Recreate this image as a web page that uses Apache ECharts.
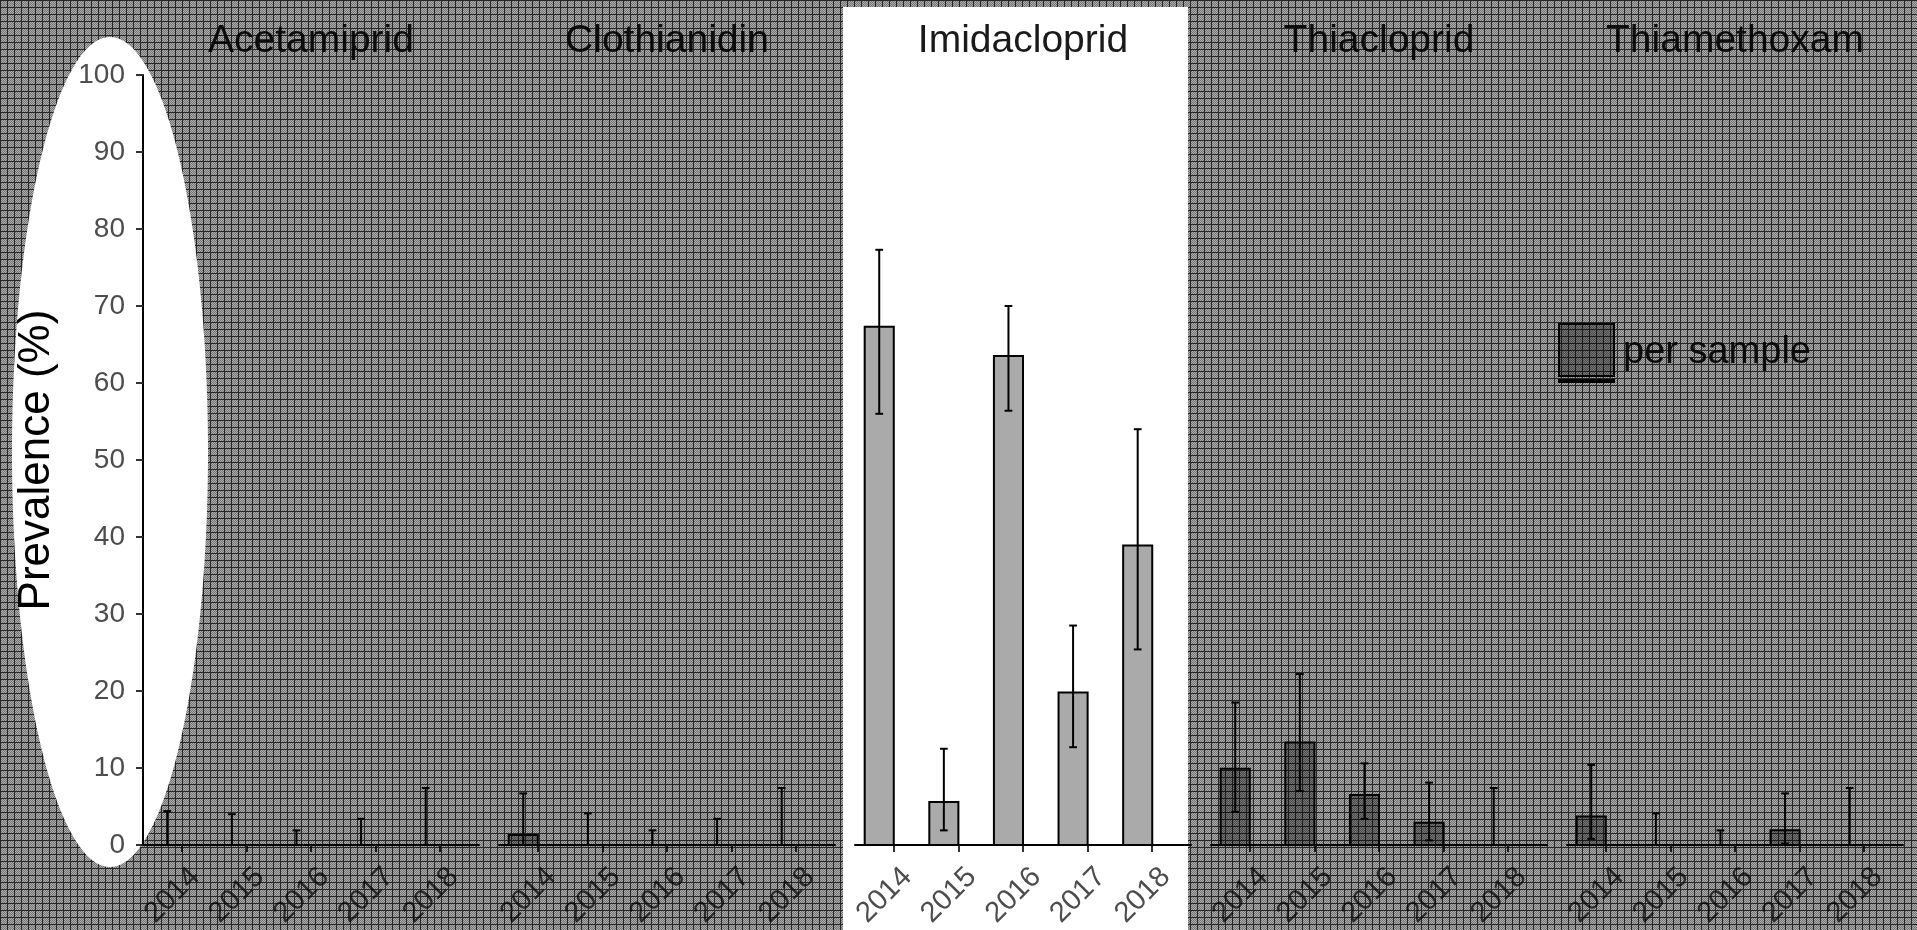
<!DOCTYPE html>
<html>
<head>
<meta charset="utf-8">
<title>Neonicotinoid prevalence per sample</title>
<script src="https://cdn.jsdelivr.net/npm/echarts@6/dist/echarts.min.js"></script>
<style>
  html, body { margin: 0; padding: 0; background: #ffffff; }
  #chart { width: 1917px; height: 930px; }
</style>
</head>
<body>
<div id="chart"></div>
<script>
// Sampling years (x tick labels) and compounds (one panel each)
const years = ['2014', '2015', '2016', '2017', '2018'];
const compounds = ['Acetamiprid', 'Clothianidin', 'Imidacloprid', 'Thiacloprid', 'Thiamethoxam'];
const seriesName = 'per sample';

// Prevalence (%) per sample with lower / upper confidence limits
const acetamipridPrev = [0, 0, 0, 0, 0];
const acetamipridLow  = [0, 0, 0, 0, 0];
const acetamipridHigh = [4.4, 4.0, 1.9, 3.4, 7.4];

const clothianidinPrev = [1.3, 0, 0, 0, 0];
const clothianidinLow  = [0, 0, 0, 0, 0];
const clothianidinHigh = [6.7, 4.1, 1.9, 3.4, 7.4];

const imidaclopridPrev = [67.3, 5.6, 63.5, 19.8, 38.9];
const imidaclopridLow  = [56.0, 1.9, 56.4, 12.7, 25.4];
const imidaclopridHigh = [77.3, 12.5, 70.0, 28.5, 54.0];

const thiaclopridPrev = [9.9, 13.3, 6.5, 2.9, 0];
const thiaclopridLow  = [4.3, 7.0, 3.4, 0.6, 0];
const thiaclopridHigh = [18.5, 22.2, 10.6, 8.1, 7.4];

const thiamethoxamPrev = [3.7, 0, 0, 1.9, 0];
const thiamethoxamLow  = [0.8, 0, 0, 0.2, 0];
const thiamethoxamHigh = [10.4, 4.1, 1.9, 6.7, 7.4];

const prevalence = [acetamipridPrev, clothianidinPrev, imidaclopridPrev, thiaclopridPrev, thiamethoxamPrev];
const lowerCI = [acetamipridLow, clothianidinLow, imidaclopridLow, thiaclopridLow, thiamethoxamLow];
const upperCI = [acetamipridHigh, clothianidinHigh, imidaclopridHigh, thiaclopridHigh, thiamethoxamHigh];

// Panel layout
const PANEL_LEFT = 143, PANEL_STEP = 356, PANEL_W = 336, PANEL_TOP = 75, PANEL_BOTTOM = 85;
const BAR_W = 0.45;   // bar width in category units, bar sits left of its tick
const CAP_W = 0.12;   // error-bar cap width in category units
const FONT = "'Liberation Sans', Arial, Helvetica, sans-serif";

// Dark dithered veil texture
function makeVeilTile() {
  const n = 7;
  const c = document.createElement('canvas');
  c.width = n; c.height = n;
  const g = c.getContext('2d');
  for (let y = 0; y < n; y++) {
    for (let x = 0; x < n; x++) {
      let a;
      if (x === 0 || y === 0) a = 0.85;
      else a = ((x + y) % 2) ? 0.32 : 0.55;
      g.fillStyle = 'rgba(0,0,0,' + a + ')';
      g.fillRect(x, y, 1, 1);
    }
  }
  return c;
}

// Veil outline: whole canvas, notched around the Imidacloprid panel,
// with an elliptical window (keyhole) around the y axis
function veilPoints() {
  const W = 1917, H = 930;
  const holeL = 843, holeR = 1188, holeT = 7;
  const cx = 110, cy = 452, rx = 98, ry = 415;
  const pts = [[0, 0], [W, 0], [W, H], [holeR, H], [holeR, holeT], [holeL, holeT], [holeL, H], [0, H], [0, cy]];
  const steps = 180;
  for (let k = 0; k <= steps; k++) {
    const t = Math.PI - (2 * Math.PI * k) / steps;
    pts.push([cx + rx * Math.cos(t), cy + ry * Math.sin(t)]);
  }
  pts.push([0, cy]);
  return pts;
}

function renderBarWithError(params, api) {
  const x = api.value(0), v = api.value(1), lo = api.value(2), hi = api.value(3);
  const mid = x - BAR_W / 2;
  const children = [];
  if (v > 0) {
    const base = api.coord([x - BAR_W, 0]);
    const top = api.coord([x, v]);
    children.push({
      type: 'rect',
      shape: { x: base[0], y: top[1], width: top[0] - base[0], height: base[1] - top[1] },
      style: { fill: '#aaaaaa', stroke: '#000000', lineWidth: 2 }
    });
  }
  const pHi = api.coord([mid, hi]);
  const pLo = api.coord([mid, lo]);
  const capL = api.coord([mid - CAP_W / 2, 0])[0];
  const capR = api.coord([mid + CAP_W / 2, 0])[0];
  const ls = { stroke: '#000000', lineWidth: 2 };
  children.push({ type: 'line', shape: { x1: pHi[0], y1: pHi[1], x2: pLo[0], y2: pLo[1] }, style: ls });
  children.push({ type: 'line', shape: { x1: capL, y1: pHi[1], x2: capR, y2: pHi[1] }, style: ls });
  children.push({ type: 'line', shape: { x1: capL, y1: pLo[1], x2: capR, y2: pLo[1] }, style: ls });
  return { type: 'group', children: children };
}

const yearIdx = years.map((y, j) => j);

const grids = compounds.map((c, i) => ({
  left: PANEL_LEFT + PANEL_STEP * i, width: PANEL_W, top: PANEL_TOP, bottom: PANEL_BOTTOM,
  containLabel: false, outerBoundsMode: 'none'
}));

const xAxes = compounds.map((c, i) => ({
  type: 'value', gridIndex: i, min: -0.6, max: 4.6,
  splitLine: { show: false },
  axisLine: { show: true, onZero: false, lineStyle: { color: '#000000', width: 2 } },
  axisTick: { show: true, customValues: yearIdx, length: 7, lineStyle: { color: '#333333', width: 2 } },
  axisLabel: {
    customValues: yearIdx, formatter: v => years[Math.round(v)],
    interval: 0, showMinLabel: true, showMaxLabel: true, hideOverlap: false,
    rotate: 45, margin: 14, align: 'right', verticalAlign: 'top', lineHeight: 38,
    fontSize: 29, color: '#4d4d4d', fontFamily: FONT
  }
}));

const yAxes = compounds.map((c, i) => ({
  type: 'value', gridIndex: i, min: 0, max: 100, interval: 10,
  show: i === 0,
  name: i === 0 ? 'Prevalence (%)' : '',
  nameLocation: 'middle', nameGap: 106, nameRotate: 90,
  nameTextStyle: { fontSize: 44, color: '#000000', fontFamily: FONT, align: 'center', verticalAlign: 'middle' },
  splitLine: { show: false },
  axisLine: { show: true, onZero: false, lineStyle: { color: '#000000', width: 2 } },
  axisTick: { show: true, length: 7, lineStyle: { color: '#333333', width: 2 } },
  axisLabel: { margin: 18, fontSize: 28, color: '#4d4d4d', fontFamily: FONT }
}));

const series = compounds.map((c, i) => ({
  type: 'custom', name: seriesName, xAxisIndex: i, yAxisIndex: i,
  itemStyle: { color: '#aaaaaa', borderColor: '#000000', borderWidth: 2 },
  renderItem: renderBarWithError,
  data: yearIdx.map(j => [j, prevalence[i][j], lowerCI[i][j], upperCI[i][j]])
}));

const titles = compounds.map((c, i) => ({
  text: c, left: PANEL_LEFT + PANEL_STEP * i + PANEL_W / 2, top: 22, textAlign: 'center', padding: 0,
  textStyle: { fontSize: 39, fontWeight: 'normal', color: '#1a1a1a', fontFamily: FONT }
}));

const chart = echarts.init(document.getElementById('chart'), null, { renderer: 'canvas' });
chart.setOption({
  animation: false,
  backgroundColor: '#ffffff',
  textStyle: { fontFamily: FONT },
  title: titles,
  legend: {
    left: 1558, top: 323, padding: 0, selectedMode: false,
    itemWidth: 55, itemHeight: 58,
    data: [{
      name: seriesName,
      icon: 'path://M0,0H55V52H0Z M0,56H55V58H0Z',
      itemStyle: { color: '#aaaaaa', borderColor: '#000000', borderWidth: 2 }
    }],
    textStyle: { fontSize: 38, color: '#1a1a1a', fontFamily: FONT, padding: [0, 0, 0, 4] }
  },
  grid: grids,
  xAxis: xAxes,
  yAxis: yAxes,
  series: series,
  graphic: [{
    type: 'polygon', silent: true, z: 100,
    shape: { points: veilPoints() },
    style: { fill: { image: makeVeilTile(), repeat: 'repeat' } }
  }]
});
</script>
</body>
</html>
